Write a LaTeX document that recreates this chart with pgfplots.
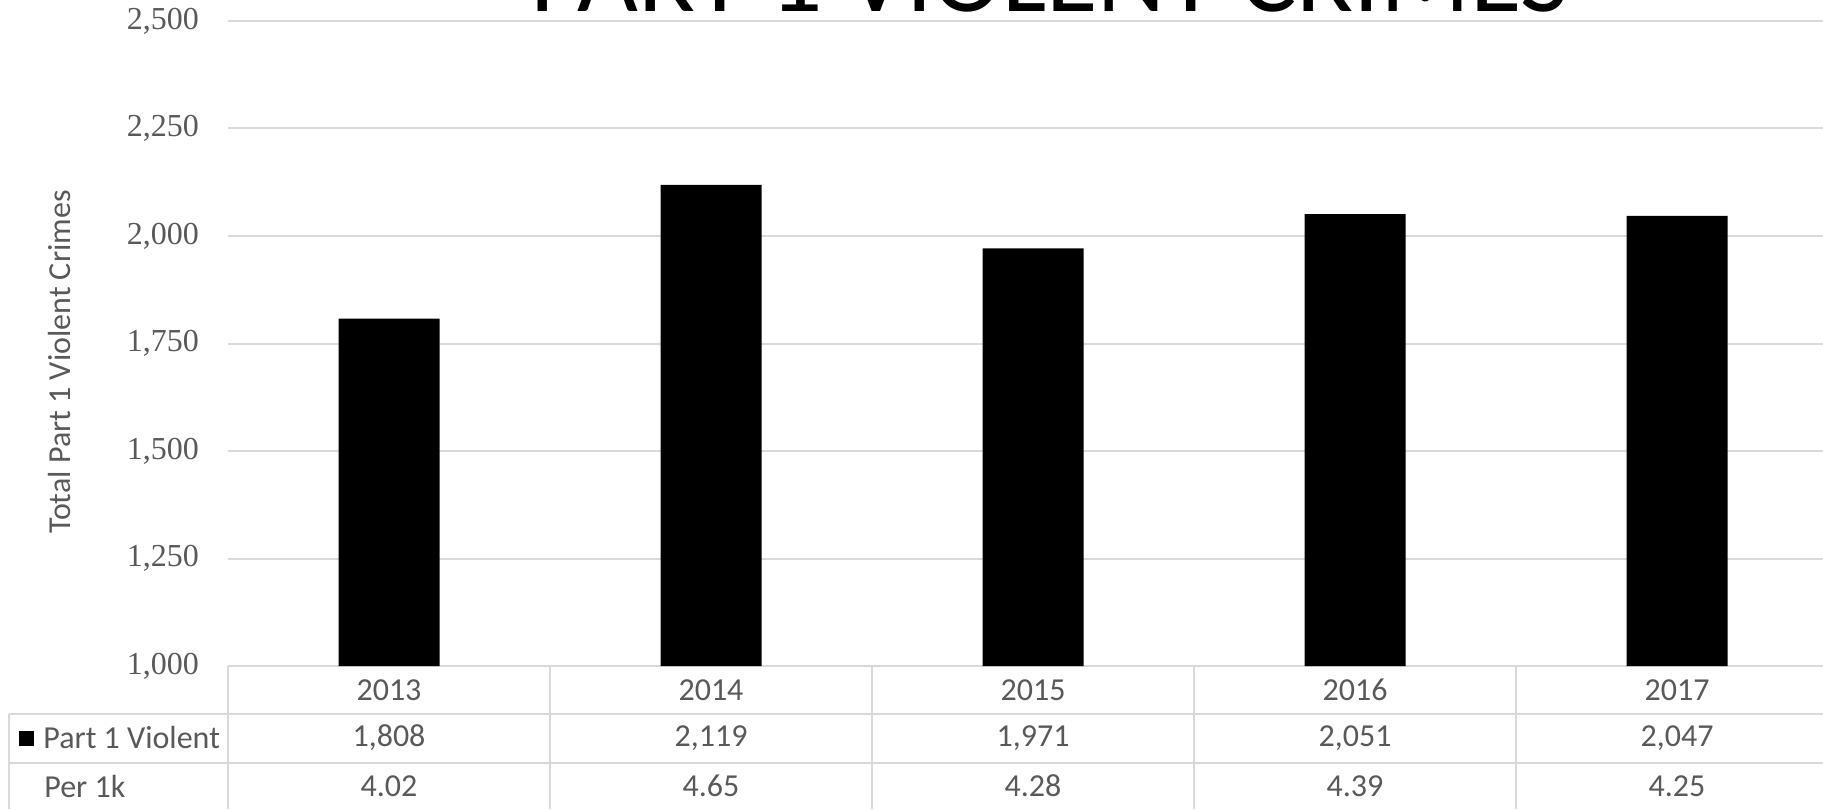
\documentclass[border=0pt]{standalone}
\usepackage{pgfplots}
\pgfplotsset{compat=1.18}
\usepackage{pgfplotstable}
\usepackage{fontspec}
\setmainfont{Carlito}
\newfontfamily\tickfont{Liberation Serif}
\definecolor{txt}{HTML}{595959}
\definecolor{gridc}{HTML}{D9D9D9}
\tikzset{tbl/.style={font=\fontsize{16}{16}\selectfont, text=txt, anchor=center}}

\pgfplotstableread{
x year val per
0 2013 1808 4.02
1 2014 2119 4.65
2 2015 1971 4.28
3 2016 2051 4.39
4 2017 2047 4.25
}\crimes

\begin{document}
\begin{tikzpicture}
\useasboundingbox (0pt,0pt) rectangle (911.5pt,404.5pt);
\begin{axis}[
  at={(114pt,71.5pt)}, anchor=south west,
  scale only axis, width=797.5pt, height=322.5pt,
  xmin=-0.5, xmax=4.4534, ymin=1000, ymax=2500,
  ytick={1000,1250,1500,1750,2000,2250,2500},
  xtick={0,1,2,3,4}, xticklabels={2013,2014,2015,2016,2017},
  ymajorgrids, grid style={gridc, line width=1pt},
  axis line style={draw=none}, major tick length=0pt,
  clip mode=individual,
  /pgf/number format/.cd, 1000 sep={,}, assume math mode=true,
  /pgfplots/.cd,
  yticklabel style={font=\tickfont\fontsize{16}{16}\selectfont, text=txt, anchor=east, xshift=-11pt},
  xticklabel style={font=\fontsize{16}{16}\selectfont, text=txt, anchor=center, yshift=-12pt},
]
\addplot[ybar, fill=black, draw=none, bar width=50.5pt, bar shift=0pt] table[x=x, y=val] {\crimes};
\node[tbl, yshift=-36pt] at (axis cs:0,1000) {1,808};
\node[tbl, yshift=-36pt] at (axis cs:1,1000) {2,119};
\node[tbl, yshift=-36pt] at (axis cs:2,1000) {1,971};
\node[tbl, yshift=-36pt] at (axis cs:3,1000) {2,051};
\node[tbl, yshift=-36pt] at (axis cs:4,1000) {2,047};
\node[tbl, yshift=-60pt] at (axis cs:0,1000) {4.02};
\node[tbl, yshift=-60pt] at (axis cs:1,1000) {4.65};
\node[tbl, yshift=-60pt] at (axis cs:2,1000) {4.28};
\node[tbl, yshift=-60pt] at (axis cs:3,1000) {4.39};
\node[tbl, yshift=-60pt] at (axis cs:4,1000) {4.25};
\end{axis}
% table grid
\draw[gridc, line width=1pt] (4.5pt,47.5pt) -- (911.5pt,47.5pt);
\draw[gridc, line width=1pt] (4.5pt,23pt) -- (911.5pt,23pt);
\draw[gridc, line width=1pt] (4.5pt,47.5pt) -- (4.5pt,0pt);
\foreach \xx in {114,275,436,597,758} {
  \draw[gridc, line width=1pt] (\xx pt,71.5pt) -- (\xx pt,0pt);
}
% legend key and row headers
\fill[black] (9.5pt,31.75pt) rectangle (17pt,39.25pt);
\node[anchor=west, inner sep=0pt, text=txt, font=\fontsize{16}{16}\selectfont] at (21.5pt,35.5pt) {Part 1 Violent};
\node[anchor=west, inner sep=0pt, text=txt, font=\fontsize{16}{16}\selectfont] at (22pt,11.5pt) {Per 1k};
% y label
\node[rotate=90, text=txt, font=\fontsize{16}{16}\selectfont] at (30pt,223.5pt) {Total Part 1 Violent Crimes};
% title (cut off at top, as in the reference)
\node[overlay, anchor=base, inner sep=0pt, font=\fontsize{52.6}{60}\selectfont] at (525pt,398.5pt) {PART 1 VIOLENT CRIMES};
\end{tikzpicture}
\end{document}
